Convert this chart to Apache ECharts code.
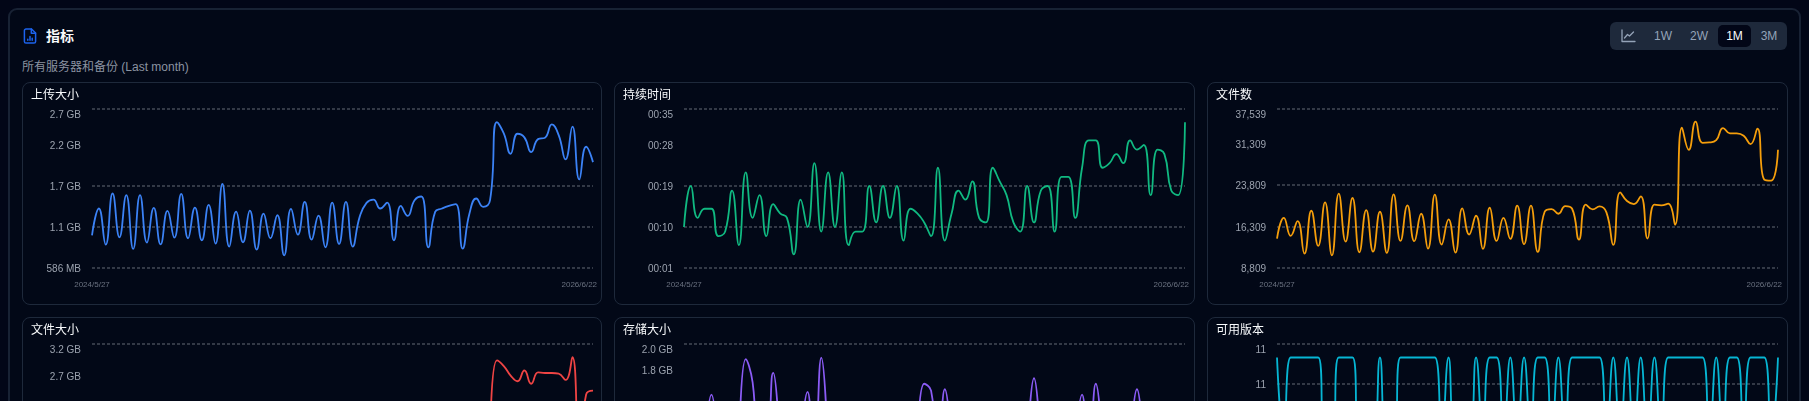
<!DOCTYPE html>
<html>
<head>
<meta charset="utf-8">
<title>指标</title>
<style>
  html, body { margin: 0; padding: 0; width: 1809px; height: 401px; overflow: hidden; background: #020617; font-family: "Liberation Sans", "Noto Sans CJK SC", sans-serif; }
  .panel { position: absolute; left: 8px; top: 8px; width: 1793px; height: 640px; box-sizing: border-box; border: 2px solid #182234; border-radius: 9px; background: #020817; }
  .heading { position: absolute; left: 46px; top: 27px; font-size: 14px; line-height: 18px; font-weight: 700; color: #f8fafc; }
  .sub { position: absolute; left: 22px; top: 59px; font-size: 12px; line-height: 16px; color: #8b93a1; }
  .icon { position: absolute; left: 23px; top: 28px; }
  .card { position: absolute; box-sizing: border-box; width: 580px; height: 223px; border: 1px solid #1e293b; border-radius: 8px; }
  .range { position: absolute; left: 1610px; top: 22px; width: 177px; height: 28px; border-radius: 6px; background: #1e293b; font-size: 12px; color: #94a3b8; }
  .range span { position: absolute; top: 3px; height: 22px; line-height: 22px; text-align: center; border-radius: 5px; }
  .range .on { background: #020617; color: #f8fafc; }
  #chart { position: absolute; left: 0; top: 0; width: 1809px; height: 640px; }
</style>
</head>
<body>
<div class="panel"></div>
<svg class="icon" width="14" height="16" viewBox="0 0 14 16" fill="none" stroke="#1d63ed" stroke-width="1.5" stroke-linecap="round" stroke-linejoin="round">
  <path d="M8.5 1H3a1.6 1.6 0 0 0-1.6 1.6v10.8A1.6 1.6 0 0 0 3 15h8a1.6 1.6 0 0 0 1.6-1.6V5z"/>
  <path d="M8.3 1v4.2h4.2M4.8 12.2v-1M7 12.2V8.6M9.2 12.2v-2"/>
</svg>
<div class="heading">指标</div>
<div class="sub">所有服务器和备份 (Last month)</div>
<div class="card" style="left:22px;top:82px"></div>
<div class="card" style="left:614px;top:82px;width:581px"></div>
<div class="card" style="left:1207px;top:82px;width:581px"></div>
<div class="card" style="left:22px;top:317px"></div>
<div class="card" style="left:614px;top:317px;width:581px"></div>
<div class="card" style="left:1207px;top:317px;width:581px"></div>
<div class="range">
  <svg style="position:absolute;left:10px;top:6px" width="16" height="16" viewBox="0 0 16 16" fill="none" stroke="#94a3b8" stroke-width="1.3" stroke-linecap="round" stroke-linejoin="round"><path d="M2 2v11.5h13M4.5 10l3-3.5 2 1.5L13.5 4"/></svg>
  <span style="left:35px;width:36px">1W</span>
  <span style="left:71px;width:36px">2W</span>
  <span class="on" style="left:108px;width:33px">1M</span>
  <span style="left:141px;width:36px">3M</span>
</div>
<div id="chart"></div>
<script src="https://cdn.jsdelivr.net/npm/echarts@6/dist/echarts.min.js"></script>
<script>
// Backup metrics dashboard: six line panels sharing one daily time axis.
const firstDate = '2024/5/27';
const lastDate = '2026/6/22';
const lastLabelIndex = 71;
const pointCount = 74;
const dates = Array.from({ length: pointCount }, (_, i) =>
  i === 0 ? firstDate : i === lastLabelIndex ? lastDate : String(i));

const uploadSizeGb = [1.010,1.368,0.885,1.569,0.983,1.546,0.827,1.546,0.912,1.377,0.889,1.336,0.979,1.564,0.970,1.381,0.943,1.417,0.898,1.698,0.858,1.327,0.916,1.341,0.818,1.301,0.970,1.278,0.742,1.363,1.019,1.457,0.952,1.274,0.849,1.448,0.894,1.457,0.858,1.256,1.444,1.488,1.368,1.448,0.943,1.403,1.269,1.479,1.529,0.849,1.323,1.368,1.403,1.426,0.831,1.301,1.502,1.390,1.479,2.525,2.373,2.101,2.369,2.320,2.123,2.297,2.315,2.494,2.351,2.025,2.463,1.757,2.195,1.989];
const durationMinutes = [10,19,12,14,14,8,9,18,6,22,12,17,8,15,13,12,4,16,10,24,9,22,10,22,6,9,9,19,11,19,12,19,7,14,13,11,8,23,7,13,18,16,20,12,11,23,20,17,11,9,19,11,18,19,9,21,21,12,23,29,29,23,24,26,24,29,27,28,17,27,26,18,17,33];
const fileCount = [14133,17884,14617,17279,11410,19155,12802,20667,11108,22240,13589,21454,11653,19275,11773,18973,11531,22119,13710,20122,13649,18610,12318,22059,13044,17581,11592,19578,14859,18247,12258,19699,13710,17884,14073,20062,13105,20062,11713,18973,19457,18610,20001,19518,13951,20243,19396,19941,18852,12983,22482,20909,20365,21756,14133,20243,20122,20425,16614,34159,30165,35248,31436,31497,31920,34098,33130,33130,32706,31194,33977,24781,24599,30165];
const fileSizeGb = [null,null,null,null,null,null,null,null,null,null,null,null,null,null,null,null,null,null,null,null,null,null,null,null,null,null,null,null,null,null,null,null,null,null,null,null,null,null,null,null,null,null,null,null,null,null,null,null,null,null,null,null,null,null,null,null,null,null,1.6,2.94,2.85,2.70,2.61,2.78,2.57,2.75,2.74,2.74,2.73,2.63,2.99,1.5,2.40,2.46];
const storageSizeGb = [null,null,null,1.2,1.63,1.2,null,null,1.15,1.89,1.72,1.15,1.2,1.79,1.2,null,null,1.2,1.65,1.2,1.90,1.2,null,null,null,null,null,null,null,null,null,null,null,null,1.2,1.71,1.66,1.2,1.67,1.2,null,null,null,null,null,null,null,null,null,null,1.2,1.75,1.2,null,null,null,null,1.2,1.63,1.2,1.71,1.2,null,null,null,1.2,1.67,1.2,null,null,null,null,null,null];
const versionCount = [11,10,11,11,11,11,11,10,10,11,11,11,10,10,10,11,10,10,11,11,11,11,11,11,10,11,10,10,10,11,10,11,11,10,11,10,11,10,11,11,10,11,10,11,11,11,11,11,10,11,10,11,10,11,10,11,10,11,11,11,11,11,11,10,11,10,11,11,10,11,11,11,10,11];

const uploadTicks = { min: 0.572, max: 2.70, grid: [0.572, 1.122, 1.672], labels: [0.572, 1.122, 1.672, 2.222, 2.70], text: ['586 MB', '1.1 GB', '1.7 GB', '2.2 GB', '2.7 GB'] };
const durationTicks = { min: 1, max: 35.9, grid: [1, 10, 19], labels: [1, 10, 19, 28, 35.9], text: ['00:01', '00:10', '00:19', '00:28', '00:35'] };
const fileCountTicks = { min: 8809, max: 37539, grid: [8809, 16309, 23809], labels: [8809, 16309, 23809, 31309, 37539], text: ['8,809', '16,309', '23,809', '31,309', '37,539'] };
const fileSizeTicks = { min: 0.68, max: 3.2, grid: [0.68, 1.33, 1.98], labels: [0.68, 1.33, 1.98, 2.7, 3.2], text: ['', '', '', '2.7 GB', '3.2 GB'] };
const storageTicks = { min: 0.84, max: 2.0, grid: [0.84, 1.14, 1.44], labels: [0.84, 1.14, 1.44, 1.81, 2.0], text: ['', '', '', '1.8 GB', '2.0 GB'] };
const versionTicks = { min: 9.17, max: 11.17, grid: [9.17, 9.67, 10.17, 10.67], labels: [9.17, 9.67, 10.17, 10.67, 11.17], text: ['9', '10', '10', '11', '11'] };

const panels = [
  { title: '上传大小', values: uploadSizeGb, ticks: uploadTicks, color: '#3b82f6', left: 92, top: 109 },
  { title: '持续时间', values: durationMinutes, ticks: durationTicks, color: '#10b981', left: 684, top: 109 },
  { title: '文件数', values: fileCount, ticks: fileCountTicks, color: '#f59e0b', left: 1277, top: 109 },
  { title: '文件大小', values: fileSizeGb, ticks: fileSizeTicks, color: '#ef4444', left: 92, top: 344 },
  { title: '存储大小', values: storageSizeGb, ticks: storageTicks, color: '#8b5cf6', left: 684, top: 344 },
  { title: '可用版本', values: versionCount, ticks: versionTicks, color: '#06b6d4', left: 1277, top: 344 }
];

const gridWidth = 501;
const gridHeight = 159;
const font = '"Liberation Sans", "Noto Sans CJK SC", sans-serif';

// The axis maximum hangs below its line, the other labels sit centred on theirs.
const labelRich = {
  top: { color: '#9ca3af', fontSize: 10, fontFamily: font, padding: [1, 0, 0, 0] },
  mid: { color: '#9ca3af', fontSize: 10, fontFamily: font, padding: [3, 0, 0, 0] }
};

const chart = echarts.init(document.getElementById('chart'), null, { renderer: 'canvas' });
chart.setOption({
  backgroundColor: 'transparent',
  animation: false,
  title: panels.map(p => ({
    text: p.title,
    left: p.left - 61,
    top: p.top - 21,
    padding: 0,
    textStyle: { color: '#f8fafc', fontSize: 12, fontWeight: 400, fontFamily: font, lineHeight: 16 }
  })),
  grid: panels.map(p => ({ left: p.left, top: p.top, width: gridWidth, height: gridHeight, containLabel: false })),
  xAxis: panels.map((p, i) => ({
    type: 'category',
    gridIndex: i,
    data: dates,
    boundaryGap: false,
    axisLine: { show: false },
    axisTick: { show: false },
    splitLine: { show: false },
    axisLabel: { customValues: [0, lastLabelIndex], color: '#6b7280', fontSize: 8, fontFamily: font, margin: 13, hideOverlap: false }
  })),
  yAxis: panels.map((p, i) => ({
    type: 'value',
    gridIndex: i,
    min: p.ticks.min,
    max: p.ticks.max,
    axisLine: { show: false },
    axisTick: { show: false, customValues: p.ticks.grid.concat(p.ticks.max) },
    splitLine: { show: true, lineStyle: { color: '#444a57', type: [3, 2], width: 1.5 } },
    axisLabel: {
      customValues: p.ticks.labels,
      formatter: v => {
        const text = p.ticks.text[p.ticks.labels.indexOf(v)] ?? '';
        return text ? `{${v === p.ticks.max ? 'top' : 'mid'}|${text}}` : '';
      },
      rich: labelRich,
      verticalAlignMaxLabel: 'top',
      color: '#9ca3af', fontSize: 10, fontFamily: font, margin: 11
    }
  })),
  series: panels.map((p, i) => ({
    type: 'line',
    name: p.title,
    xAxisIndex: i,
    yAxisIndex: i,
    data: p.values,
    smooth: true,
    showSymbol: false,
    lineStyle: { color: p.color, width: 1.8 },
    itemStyle: { color: p.color }
  }))
});
</script>
</body>
</html>
